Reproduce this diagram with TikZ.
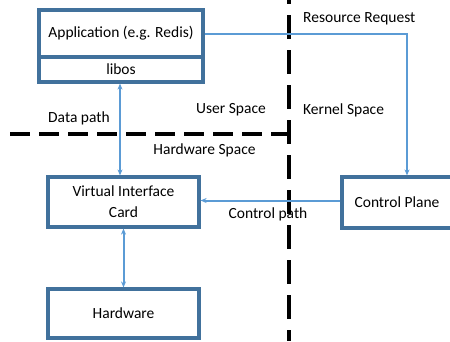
\documentclass[tikz,border=0pt]{standalone}
\usepackage{fontspec}
\setmainfont{Carlito}
\usepackage{xcolor}
\usepackage{tikz}
\usetikzlibrary{arrows.meta}
\definecolor{boxblue}{HTML}{41719C}
\definecolor{lineblue}{HTML}{5B9BD5}

\begin{document}
\begin{tikzpicture}[x=1pt,y=-1pt,>={Stealth[length=6pt,width=5pt]},
	font=\fontsize{15.5}{21}\selectfont,
	blk/.style={rectangle,draw=boxblue,line width=3.2pt,fill=white,text=black,inner sep=0pt,align=center},
	path/.style={color=lineblue,line width=2pt},
	split/.style={black,line width=3.2pt,dash pattern=on 24pt off 11pt}]
	\useasboundingbox (0,0) rectangle (450,341);
	
	% 分界线
	\coordinate (vtop) at (289,0);
	\coordinate (vbot) at (289,341);
	\coordinate (hleft) at (10,134);
	\coordinate (hright) at (289,134);
	\draw[split,dash phase=20pt] (vtop)--(vbot);
	\draw[split,dash pattern=on 20pt off 9pt] (hleft)--(hright);
	
	% 方框
	\node[blk,minimum width=164pt,minimum height=47pt] (app) at (121,33.5){Application (e.g. Redis)};
	\node[blk,minimum width=164pt,minimum height=25pt] (libos) at (121,69.5){libos};
	\node[blk,minimum width=151pt,minimum height=50pt] (vic) at (123.5,202){Virtual Interface\\Card};
	\node[blk,minimum width=151pt,minimum height=49pt] (hw) at (123.5,313.5){Hardware};
	\node[blk,minimum width=110pt,minimum height=51pt] (cp) at (397,202.5){Control Plane};
	
	% 连线
	\draw[<->,path] ([xshift=-1pt]libos.south)--([xshift=-3.5pt]vic.north);
	\draw[<->,path] (vic.south)--(hw.north);
	\draw[->,path] (app.east) -| ([xshift=10pt]cp.north);
	\draw[->,path] ([yshift=2pt]cp.west)--([yshift=2pt]cp.west -| vic.east);
	
	% 文字
	\foreach \n/\x/\y/\t in {rr/303/19/Resource Request,ks/303/110/Kernel Space,dp/48/118/Data path}{
		\node[anchor=west,inner sep=0pt] (\n) at (\x,\y){\t};
	}
	\foreach \n/\x/\y/\t in {us/231/110/User Space,hs/204.5/150/Hardware Space,cpath/268/214/Control path}{
		\node[inner sep=0pt] (\n) at (\x,\y){\t};
	}
\end{tikzpicture}
\end{document}
